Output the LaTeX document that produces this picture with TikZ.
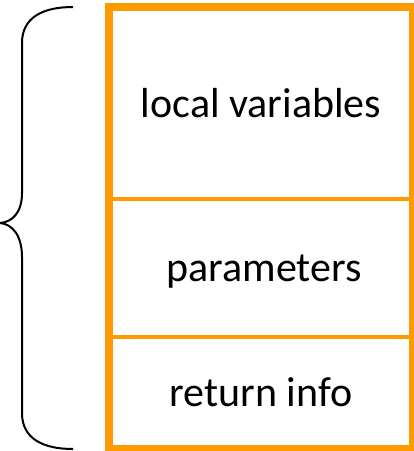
\documentclass[tikz,border=0pt]{standalone}
\usepackage{fontspec}
\setmainfont{Carlito}
\definecolor{frameorange}{RGB}{255,153,0}
\tikzset{
  frame/.style={draw=frameorange, line width=8pt},
  divider/.style={draw=frameorange, line width=4pt},
  brace/.style={draw=black, line width=2pt},
  label/.style={anchor=base, inner sep=0pt, font=\fontsize{42}{50}\selectfont}
}
\begin{document}
\begin{tikzpicture}[x=1pt,y=1pt]
\useasboundingbox (0,0) rectangle (414,-451);
\draw[frame] (109,-7) rectangle (413,-449);
\coordinate (d1l) at (109,-198.7);
\coordinate (d1r) at (413,-198.7);
\coordinate (d2l) at (109,-336.5);
\coordinate (d2r) at (413,-336.5);
\draw[divider] (d1l) -- (d1r);
\draw[divider] (d2l) -- (d2r);
\node[label] (loc) at (261,-117) {local variables};
\node[label] (par) at (264,-281) {parameters};
\node[label] (ret) at (261,-406) {return info};
\draw[brace] (73,-7) .. controls (42,-7) and (22,-18) .. (22,-43)
  -- (22,-193) .. controls (22,-213) and (12,-222) .. (0,-223)
  .. controls (12,-224) and (22,-235) .. (22,-257)
  -- (22,-413) .. controls (22,-438) and (42,-449) .. (73,-449);
\end{tikzpicture}
\end{document}
